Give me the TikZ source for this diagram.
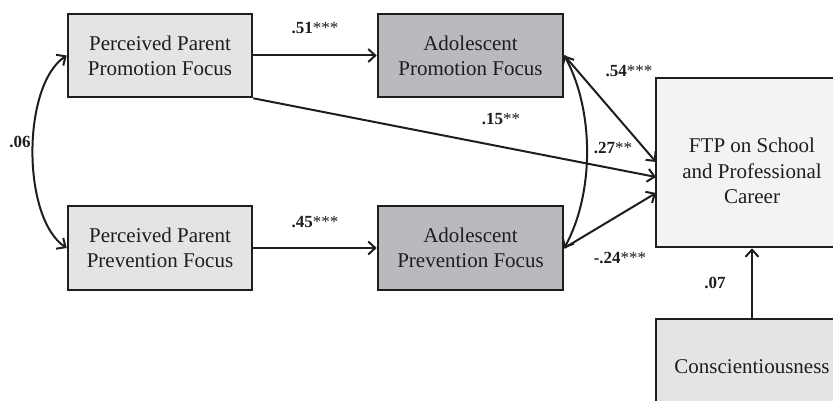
\documentclass[tikz,border=0pt]{standalone}
\usepackage{fontspec}
\setmainfont{Liberation Serif}
\usetikzlibrary{arrows.meta}
\definecolor{lightbox}{HTML}{E3E4E6}
\definecolor{darkbox}{HTML}{B9BABD}
\definecolor{palebox}{HTML}{F3F3F3}
\definecolor{inkc}{HTML}{1E1E1E}
\newcommand{\stars}[1]{{\mdseries #1}}
\tikzset{
  varbox/.style={draw=inkc, line width=2.6pt, rectangle, inner sep=0pt, align=center,
    font=\fontsize{21}{25}\selectfont, text=inkc},
  conn/.style={draw=inkc, line width=2pt, -{Straight Barb[length=7pt,width=13pt,line width=2pt]}},
  dconn/.style={draw=inkc, line width=2pt, {Straight Barb[length=7pt,width=13pt,line width=2pt]}-{Straight Barb[length=7pt,width=13pt,line width=2pt]}},
  coef/.style={font=\fontsize{17}{19}\selectfont\bfseries, text=inkc, inner sep=0pt}
}
\begin{document}
\begin{tikzpicture}[x=1pt,y=-1pt]
\useasboundingbox (0,0) rectangle (833,401);
\clip (0,0) rectangle (833,401);
\fill[white] (0,0) rectangle (833,401);
% boxes
\node[varbox, fill=lightbox, minimum width=184pt, minimum height=83pt] (pp1) at (160,55.5) {Perceived Parent\\Promotion Focus};
\node[varbox, fill=lightbox, minimum width=184pt, minimum height=84pt] (pp2) at (160,248) {Perceived Parent\\Prevention Focus};
\node[varbox, fill=darkbox, minimum width=185pt, minimum height=83pt] (ap1) at (470.5,55.5) {Adolescent\\Promotion Focus};
\node[varbox, fill=darkbox, minimum width=185pt, minimum height=84pt] (ap2) at (470.5,248) {Adolescent\\Prevention Focus};
\node[varbox, fill=palebox, minimum width=192pt, minimum height=169pt] (ftp) at (752,162.5) {};
\node[align=center, font=\fontsize{21}{25.5}\selectfont, text=inkc, inner sep=0pt] (ftptext) at (752,171) {FTP on School\\and Professional\\Career};
\node[varbox, fill=lightbox, minimum width=192pt, minimum height=96pt] (con) at (752,367) {Conscientiousness};
% anchor points on FTP
\coordinate (f1) at (656,177);
\coordinate (f2) at (656,162);
\coordinate (f3) at (656,193);
% connectors
\draw[conn] (pp1.east) -- (ap1.west);
\draw[conn] (pp2.east) -- (ap2.west);
\draw[conn] (pp1.south east) -- (f1);
\draw[conn] (ap1.east) -- (f2);
\draw[conn] (ap2.east) -- (f3);
\draw[conn] (con.north) -- (ftp.south);
\draw[dconn] (pp1.west) .. controls +(-45,30) and +(-45,-30) .. (pp2.west);
\draw[dconn] (ap1.east) .. controls +(30,55) and +(30,-55) .. (ap2.east);
% coefficients
\node[coef] (c51) at (315,28) {.51\stars{***}};
\node[coef] (c45) at (315,222) {.45\stars{***}};
\node[coef] (c06) at (20,142) {.06};
\node[coef] (c15) at (501,119) {.15\stars{**}};
\node[coef] (c54) at (629,71) {.54\stars{***}};
\node[coef] (c27) at (613,148) {.27\stars{**}};
\node[coef] (c24) at (620,258) {-.24\stars{***}};
\node[coef] (c07) at (715,283) {.07};
\end{tikzpicture}
\end{document}
